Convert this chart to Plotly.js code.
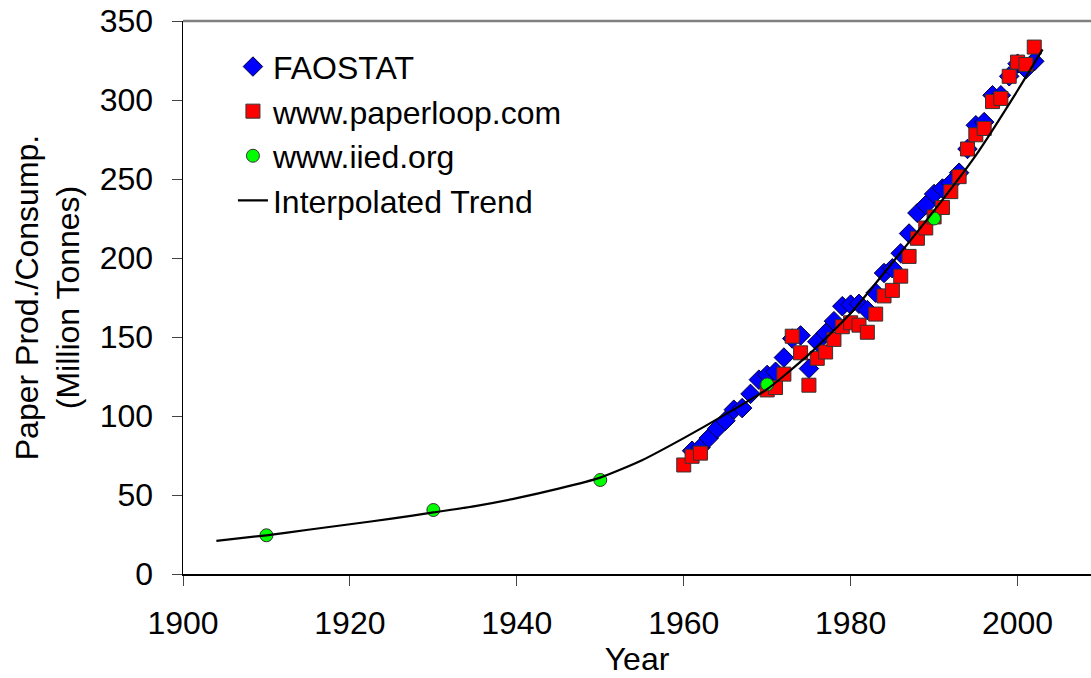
<!DOCTYPE html>
<html>
<head>
<meta charset="utf-8">
<script src="https://cdn.plot.ly/plotly-3.0.1.min.js"></script>
<style>html,body{margin:0;padding:0;background:#fff;}#chart{width:1091px;height:678px;}</style>
</head>
<body>
<div id="chart"></div>
<script>
// FAOSTAT (blue diamonds)
const faoYears = [1961,1962,1963,1964,1965,1966,1967,1968,1969,1970,1971,1972,1973,1974,1975,1976,1977,1978,1979,1980,1981,1982,1983,1984,1985,1986,1987,1988,1989,1990,1991,1992,1993,1994,1995,1996,1997,1998,1999,2000,2001,2002];
const faoValues = [78,80,86,92,97,104,105,114,123,126,128,137,149,151,130,147,152.5,160,169.5,170.5,171,167,178,190.5,193.5,203,215.5,228.5,233.5,240.5,244,247.5,254,269,284,286,303,303,315,323,319.5,324.5];

// www.paperloop.com (red squares)
const paperYears = [1960,1961,1962,1970,1971,1972,1973,1974,1975,1976,1977,1978,1979,1980,1981,1982,1983,1984,1985,1986,1987,1988,1989,1990,1991,1992,1993,1994,1995,1996,1997,1998,1999,2000,2001,2002];
const paperValues = [69,74.5,76.5,116.5,118,126.5,150.5,140,119.5,136.5,140.5,148.5,156.5,159,157.5,153,164.5,176,179.5,188.5,201,212.5,219,226,232,242,251.5,269,278,282,299,301,315,324,322.5,333.5];

// www.iied.org (green circles)
const iiedYears = [1910,1930,1950,1970,1990];
const iiedValues = [24.5,40.5,59.5,120,225];

// Interpolated trend
const trendYears = [1904,1910,1915,1920,1925,1930,1935,1940,1945,1950,1955,1960,1965,1970,1975,1980,1985,1990,1995,2000,2003];
const trendValues = [21,24.5,28,31.5,35,39,43,48,54,61,72,86,101,117,139,165,197,230,265,306,332];

const xTicks = [1900,1920,1940,1960,1980,2000];
const yTicks = [0,50,100,150,200,250,300,350];

const traces = [
  {x: faoYears, y: faoValues, name: 'FAOSTAT', type: 'scatter', mode: 'markers',
   marker: {symbol: 'diamond', size: 15, color: '#0000FF', line: {color: '#000033', width: 1}}},
  {x: paperYears, y: paperValues, name: 'www.paperloop.com', type: 'scatter', mode: 'markers',
   marker: {symbol: 'square', size: 14, color: '#FF0000', line: {color: '#333333', width: 1}}},
  {x: iiedYears, y: iiedValues, name: 'www.iied.org', type: 'scatter', mode: 'markers',
   marker: {symbol: 'circle', size: 13, color: '#00FF00', line: {color: '#333333', width: 1}}},
  {x: trendYears, y: trendValues, name: 'Interpolated Trend', type: 'scatter', mode: 'lines',
   line: {color: '#000000', width: 2.2, shape: 'spline', smoothing: 0.6}}
];

const layout = {
  width: 1091, height: 678,
  margin: {l: 183, r: 0, t: 21, b: 104},
  paper_bgcolor: '#ffffff', plot_bgcolor: '#ffffff',
  font: {family: 'Liberation Sans, Arial, sans-serif', size: 32, color: '#000'},
  showlegend: true,
  legend: {x: 0.055, y: 0.967, xanchor: 'left', yanchor: 'top', bgcolor: 'rgba(0,0,0,0)',
           font: {size: 32, color: '#000'}},
  xaxis: {range: [1900, 2008.8], tickvals: xTicks, ticktext: xTicks.map(String),
          ticks: 'outside', ticklen: 10, tickcolor: '#444', tickwidth: 1,
          showline: true, linecolor: '#000', linewidth: 1.5, showgrid: false, zeroline: false,
          tickfont: {size: 32}, ticklabelstandoff: 10,
          title: {text: 'Year', font: {size: 32}, standoff: 4}},
  yaxis: {range: [0, 350], tickvals: yTicks, ticktext: yTicks.map(String),
          ticks: 'outside', ticklen: 10, tickcolor: '#444', tickwidth: 1,
          showline: true, linecolor: '#000', linewidth: 1.5, showgrid: false, zeroline: false,
          tickfont: {size: 32}, ticklabelstandoff: 12,
          title: {text: 'Paper Prod./Consump.<br>(Million Tonnes)', font: {size: 32}, standoff: 10}},
  shapes: [{type: 'line', xref: 'paper', yref: 'paper', x0: 0, x1: 1, y0: 1, y1: 1,
            line: {color: '#808080', width: 2.5}}]
};

Plotly.newPlot('chart', traces, layout, {displayModeBar: false, staticPlot: true});
</script>
</body>
</html>
